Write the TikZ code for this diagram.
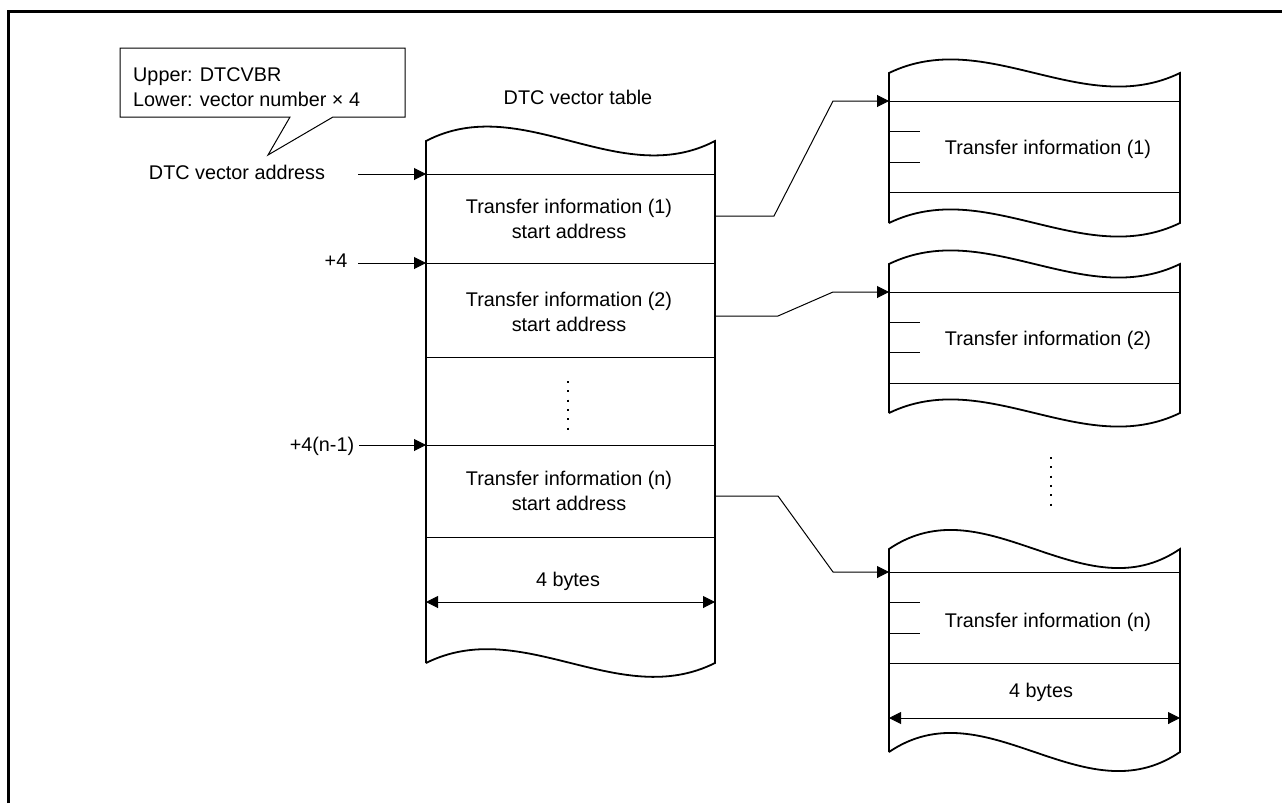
\documentclass[tikz,border=0pt]{standalone}
\usepackage{fontspec}
\setmainfont{Liberation Sans}
\usetikzlibrary{arrows.meta}
\begin{document}
\begin{tikzpicture}[x=1pt,y=-1pt,
  txt/.style={font=\fontsize{19.8}{25}\selectfont, inner sep=0pt, align=center},
  boxline/.style={line width=1.8pt, line join=miter},
  rowline/.style={line width=1pt},
  conn/.style={line width=1pt},
  arr/.style={conn, -{Triangle[length=12pt,width=12pt]}},
  dimarr/.style={line width=1pt, {Triangle[length=12pt,width=12pt]}-{Triangle[length=12pt,width=12pt]}},
  dotline/.style={line width=2pt, dash pattern=on 2pt off 7.3pt}
]
\useasboundingbox (0,0) rectangle (1282,803);
% outer frame
\draw[line width=3pt] (8.7,803) -- (8.7,11.3) -- (1282,11.3);

% callout
\draw[line width=1pt] (120,48) -- (405,48) -- (405,117) -- (333,117) -- (268,155) -- (290,117) -- (120,117) -- cycle;
\node[txt, align=left, anchor=west] (callout) at (133,87.5) {Upper: DTCVBR\\Lower: vector number × 4};

% vector table
\node[txt] (vtitle) at (578,97) {DTC vector table};
\draw[boxline] (426,663) -- (426,141) .. controls (522.3,91) and (618.7,191) .. (715,141) -- (715,663) .. controls (618.7,711) and (522.3,615) .. (426,663);
\foreach \yy in {174,263,357,445,537} \draw[rowline] (426,\yy) -- (715,\yy);
\node[txt] (row1) at (569,219) {Transfer information (1)\\start address};
\node[txt] (row2) at (569,312) {Transfer information (2)\\start address};
\node[txt] (rown) at (569,491) {Transfer information (n)\\start address};
\draw[dotline] (568,381) -- (568,432);
\node[txt] (tbytes) at (568,581) {4 bytes};
\coordinate (tdimL) at (426,602);
\coordinate (tdimR) at (715,602);
\draw[dimarr] (tdimL) -- (tdimR);

% address labels and arrows
\node[txt] (addr) at (237,172) {DTC vector address};
\node[txt] (plus4) at (336,261) {+4};
\node[txt] (plusn) at (322,446) {+4(n-1)};
\coordinate (addrIn) at (426,174);
\coordinate (plus4In) at (426,263);
\coordinate (plusnIn) at (426,445);
\coordinate (addrStart) at (358,174);
\coordinate (plus4Start) at (358,263);
\coordinate (plusnStart) at (359,445);
\draw[arr] (addrStart) -- (addrIn);
\draw[arr] (plus4Start) -- (plus4In);
\draw[arr] (plusnStart) -- (plusnIn);

% right boxes
\draw[boxline] (889,223) -- (889,73) .. controls (986,26) and (1083,120) .. (1180,73) -- (1180,223) .. controls (1083,270) and (986,176) .. (889,223);
\draw[rowline] (889,101) -- (1180,101);
\draw[rowline] (889,192) -- (1180,192);
\draw[rowline] (889,131) -- (920,131);
\draw[rowline] (889,162) -- (920,162);
\node[txt] (info1) at (1048,149) {Transfer information (1)};

\draw[boxline] (889,413) -- (889,264) .. controls (986,217) and (1083,311) .. (1180,264) -- (1180,413) .. controls (1083,460) and (986,366) .. (889,413);
\draw[rowline] (889,292) -- (1180,292);
\draw[rowline] (889,383) -- (1180,383);
\draw[rowline] (889,322) -- (920,322);
\draw[rowline] (889,352) -- (920,352);
\node[txt] (info2) at (1048,340) {Transfer information (2)};

\draw[dotline] (1051,457) -- (1051,508);

\draw[boxline] (889,752) -- (889,549) .. controls (986,483) and (1083,615) .. (1180,549) -- (1180,752) .. controls (1083,818) and (986,686) .. (889,752);
\draw[rowline] (889,572) -- (1180,572);
\draw[rowline] (889,663) -- (1180,663);
\draw[rowline] (889,602) -- (920,602);
\draw[rowline] (889,633) -- (920,633);
\node[txt] (infon) at (1048,622) {Transfer information (n)};
\node[txt] (bbytes) at (1041,692) {4 bytes};
\coordinate (bdimL) at (889,718);
\coordinate (bdimR) at (1180,718);
\draw[dimarr] (bdimL) -- (bdimR);

% connectors
\coordinate (t1out) at (715,216);
\coordinate (t2out) at (715,316);
\coordinate (tnout) at (715,496);
\coordinate (b1in) at (889,101);
\coordinate (b2in) at (889,292);
\coordinate (bnin) at (889,572);
\draw[arr] (t1out) -- (774,216) -- (833,101) -- (b1in);
\draw[arr] (t2out) -- (778,316) -- (833,292) -- (b2in);
\draw[arr] (tnout) -- (778,496) -- (833,572) -- (bnin);
\end{tikzpicture}
\end{document}
